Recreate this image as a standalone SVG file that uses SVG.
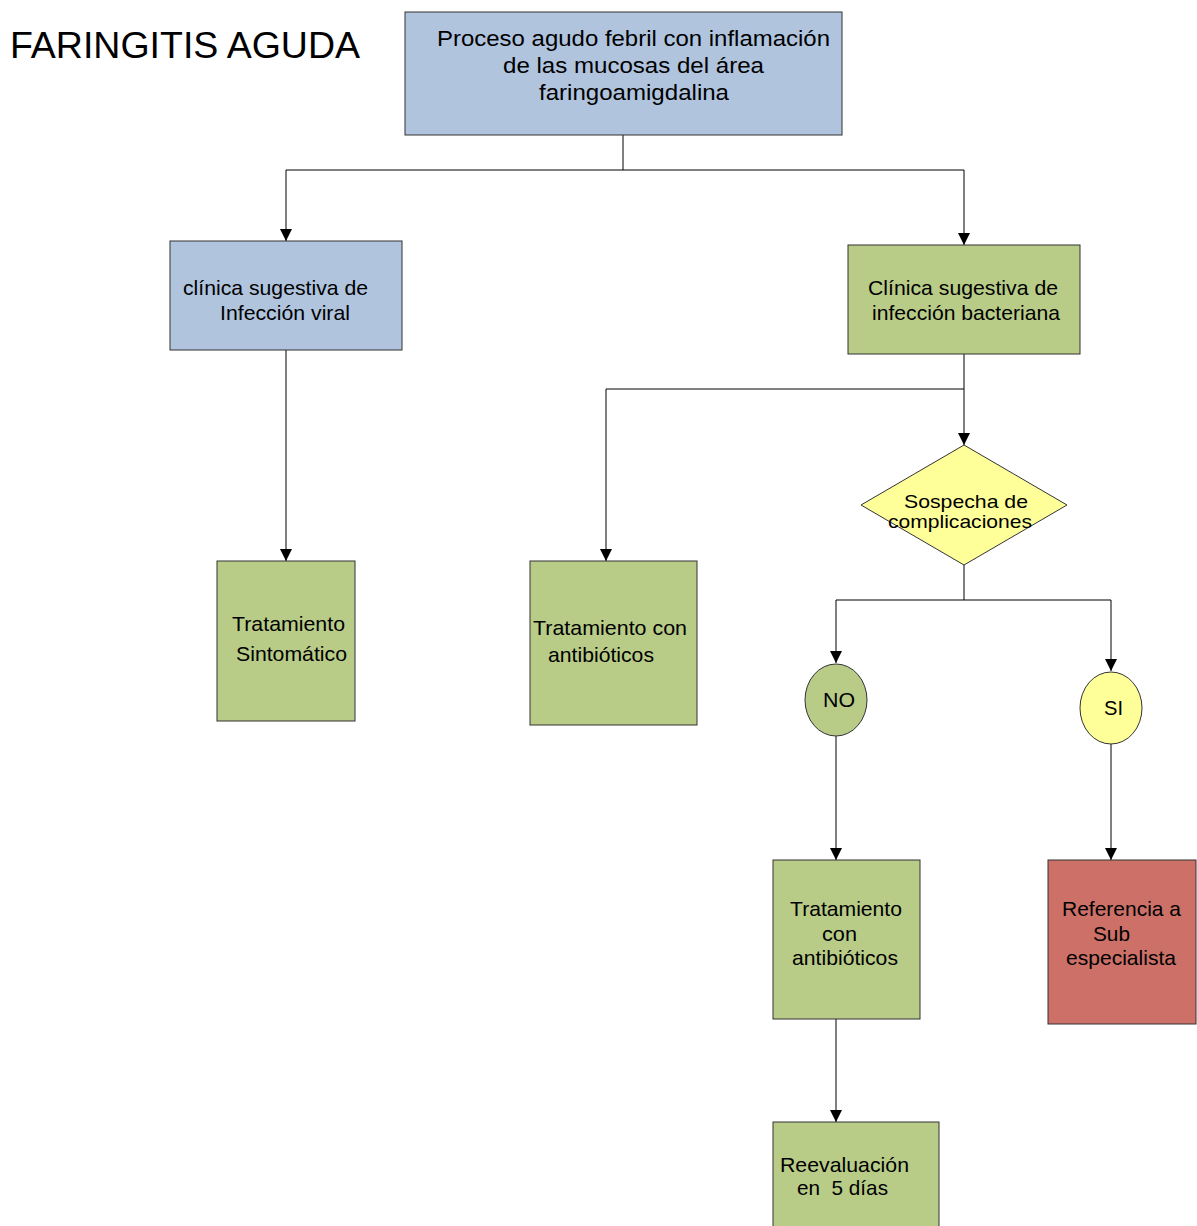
<svg xmlns="http://www.w3.org/2000/svg" width="1197" height="1226" viewBox="0 0 1197 1226">
<style>
text{font-family:"Liberation Sans",Arial,sans-serif;fill:#000;font-size:21px}
.c{text-anchor:middle}
.box{stroke:#333;stroke-width:1}
.blue{fill:#b0c4de}
.green{fill:#b8cc88}
.yellow{fill:#ffff99}
.red{fill:#cd7068}
.ln{fill:none;stroke:#000;stroke-width:1}
</style>
<defs>
<marker id="ah" markerWidth="12" markerHeight="14" refX="12" refY="6" orient="auto" markerUnits="userSpaceOnUse">
<path d="M0,0 L12,6 L0,12 Z" fill="#000"/>
</marker>
</defs>
<rect width="1197" height="1226" fill="#fff"/>
<text x="10" y="58" style="font-size:37px" textLength="350" lengthAdjust="spacingAndGlyphs">FARINGITIS AGUDA</text>
<g id="connectors">
<path class="ln" d="M623,135 V170"/>
<path class="ln" d="M286,170 H964"/>
<path class="ln" d="M286,170 V241" marker-end="url(#ah)"/>
<path class="ln" d="M964,170 V245" marker-end="url(#ah)"/>
<path class="ln" d="M286,350 V561" marker-end="url(#ah)"/>
<path class="ln" d="M964,354 V445" marker-end="url(#ah)"/>
<path class="ln" d="M964,389 H606 V561" marker-end="url(#ah)"/>
<path class="ln" d="M964,565 V600"/>
<path class="ln" d="M836,600 H1111"/>
<path class="ln" d="M836,600 V663" marker-end="url(#ah)"/>
<path class="ln" d="M1111,600 V671" marker-end="url(#ah)"/>
<path class="ln" d="M836,736 V860" marker-end="url(#ah)"/>
<path class="ln" d="M1111,744 V860" marker-end="url(#ah)"/>
<path class="ln" d="M836,1005 V1122" stroke="#777" marker-end="url(#ah)"/>
</g>
<g id="n-proceso">
<rect class="box blue" x="405" y="12" width="437" height="123"/>
<text class="c" x="633.5" y="46" style="font-size:22px" textLength="393" lengthAdjust="spacingAndGlyphs">Proceso agudo febril con inflamación</text>
<text class="c" x="633.5" y="73" style="font-size:22px" textLength="261" lengthAdjust="spacingAndGlyphs">de las mucosas del área</text>
<text class="c" x="634" y="100" style="font-size:22px" textLength="190" lengthAdjust="spacingAndGlyphs">faringoamigdalina</text>
</g>
<g id="n-viral">
<rect class="box blue" x="170" y="241" width="232" height="109"/>
<text x="183" y="295" textLength="185" lengthAdjust="spacingAndGlyphs">clínica sugestiva de</text>
<text x="220" y="320" textLength="130" lengthAdjust="spacingAndGlyphs">Infección viral</text>
</g>
<g id="n-bacteriana">
<rect class="box green" x="848" y="245" width="232" height="109"/>
<text x="868" y="295" textLength="190" lengthAdjust="spacingAndGlyphs">Clínica sugestiva de</text>
<text x="872" y="320" textLength="188" lengthAdjust="spacingAndGlyphs">infección bacteriana</text>
</g>
<g id="n-sospecha">
<polygon class="box yellow" points="964,445 1067,505 964,565 861,505"/>
<text x="904" y="508" style="font-size:19px" textLength="124" lengthAdjust="spacingAndGlyphs">Sospecha de</text>
<text x="888" y="528" style="font-size:19px" textLength="144" lengthAdjust="spacingAndGlyphs">complicaciones</text>
</g>
<g id="n-sintomatico">
<rect class="box green" x="217" y="561" width="138" height="160"/>
<text x="232" y="631" textLength="113" lengthAdjust="spacingAndGlyphs">Tratamiento</text>
<text x="236" y="661" textLength="111" lengthAdjust="spacingAndGlyphs">Sintomático</text>
</g>
<g id="n-antibioticos1">
<rect class="box green" x="530" y="561" width="167" height="164"/>
<text x="533" y="635" textLength="154" lengthAdjust="spacingAndGlyphs">Tratamiento con</text>
<text x="548" y="662" textLength="106" lengthAdjust="spacingAndGlyphs">antibióticos</text>
</g>
<g id="n-no">
<ellipse class="box green" cx="836" cy="700" rx="31" ry="36"/>
<text x="823" y="707" textLength="32" lengthAdjust="spacingAndGlyphs">NO</text>
</g>
<g id="n-si">
<ellipse class="box yellow" cx="1111" cy="708" rx="31" ry="36"/>
<text x="1104" y="715" textLength="19" lengthAdjust="spacingAndGlyphs">SI</text>
</g>
<g id="n-antibioticos2">
<rect class="box green" x="773" y="860" width="147" height="159"/>
<text x="790" y="916" textLength="112" lengthAdjust="spacingAndGlyphs">Tratamiento</text>
<text x="822" y="941" textLength="35" lengthAdjust="spacingAndGlyphs">con</text>
<text x="792" y="965" textLength="106" lengthAdjust="spacingAndGlyphs">antibióticos</text>
</g>
<g id="n-referencia">
<rect class="box red" x="1048" y="860" width="148" height="164"/>
<text x="1062" y="916" textLength="119" lengthAdjust="spacingAndGlyphs">Referencia a</text>
<text x="1093" y="941" textLength="37" lengthAdjust="spacingAndGlyphs">Sub</text>
<text x="1066" y="965" textLength="110" lengthAdjust="spacingAndGlyphs">especialista</text>
</g>
<g id="n-reevaluacion">
<rect class="box green" x="773" y="1122" width="166" height="110"/>
<text x="780" y="1172" textLength="129" lengthAdjust="spacingAndGlyphs">Reevaluación</text>
<text x="797" y="1195" textLength="91" lengthAdjust="spacingAndGlyphs" xml:space="preserve">en  5 días</text>
</g>
</svg>
